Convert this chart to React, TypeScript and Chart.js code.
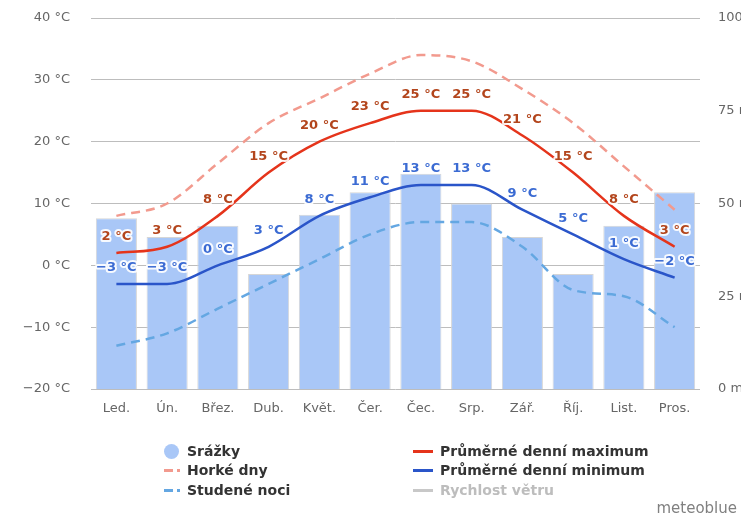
import React, { useEffect, useRef } from 'react';
import { Chart, registerables } from 'chart.js';

Chart.register(...registerables);

const months = ['Led.', 'Ún.', 'Břez.', 'Dub.', 'Květ.', 'Čer.', 'Čec.', 'Srp.', 'Zář.', 'Říj.', 'List.', 'Pros.'];
const precipitation = [46, 41, 44, 31, 47, 53, 58, 50, 41, 31, 44, 53];
const meanMax = [2, 3, 8, 15, 20, 23, 25, 25, 21, 15, 8, 3];
const meanMin = [-3, -3, 0, 3, 8, 11, 13, 13, 9, 5, 1, -2];
const hotDays = [8, 10, 16.5, 23, 27, 31, 34, 33, 28.5, 23, 16, 9];
const coldNights = [-13, -11, -7, -3, 1, 5, 7, 7, 3, -4, -5, -10];
const tempTicks = [-20, -10, 0, 10, 20, 30, 40];
const precipTicks = [0, 25, 50, 75, 100];

const FONT = '"DejaVu Sans", Verdana, sans-serif';

const fmtTemp = (v: number) => (v < 0 ? '\u2212' + Math.abs(v) : String(v)) + ' °C';

const labelColors: Record<number, string> = { 0: '#b3451c', 1: '#3b6bd3' };

const valueLabels = {
  id: 'valueLabels',
  afterDatasetsDraw(chart: any) {
    const ctx = chart.ctx;
    chart.data.datasets.forEach((ds: any, i: number) => {
      const color = labelColors[i];
      if (!color) return;
      const meta = chart.getDatasetMeta(i);
      meta.data.forEach((pt: any, j: number) => {
        const text = fmtTemp(ds.data[j]);
        ctx.save();
        ctx.font = 'bold 13px ' + FONT;
        ctx.textAlign = 'center';
        ctx.textBaseline = 'middle';
        ctx.lineJoin = 'round';
        ctx.lineWidth = 4;
        ctx.strokeStyle = 'rgba(255,255,255,0.9)';
        ctx.strokeText(text, pt.x, pt.y - 16);
        ctx.fillStyle = color;
        ctx.fillText(text, pt.x, pt.y - 16);
        ctx.restore();
      });
    });
  },
};

const legendLeft = [
  { label: 'Srážky', kind: 'circle', color: '#a9c7f7' },
  { label: 'Horké dny', kind: 'dash', color: '#f29a8e' },
  { label: 'Studené noci', kind: 'dash', color: '#64a7e2' },
];
const legendRight = [
  { label: 'Průměrné denní maximum', color: '#e5341b', text: '#333' },
  { label: 'Průměrné denní minimum', color: '#2a55c9', text: '#333' },
  { label: 'Rychlost větru', color: '#c8c8c8', text: '#bdbdbd' },
];
const rowY = [451, 470, 490];

export default function App() {
  const ref = useRef<HTMLCanvasElement | null>(null);

  useEffect(() => {
    if (!ref.current) return;
    const chart = new Chart(ref.current, {
      type: 'bar',
      data: {
        labels: months,
        datasets: [
          {
            type: 'line',
            label: 'Průměrné denní maximum',
            data: meanMax,
            borderColor: '#e5341b',
            borderWidth: 2.5,
            pointRadius: 0,
            cubicInterpolationMode: 'monotone',
            yAxisID: 'y',
            order: 1,
          },
          {
            type: 'line',
            label: 'Průměrné denní minimum',
            data: meanMin,
            borderColor: '#2a55c9',
            borderWidth: 2.5,
            pointRadius: 0,
            cubicInterpolationMode: 'monotone',
            yAxisID: 'y',
            order: 2,
          },
          {
            type: 'line',
            label: 'Horké dny',
            data: hotDays,
            borderColor: '#f29a8e',
            borderWidth: 2.5,
            borderDash: [9, 6],
            pointRadius: 0,
            cubicInterpolationMode: 'monotone',
            yAxisID: 'y',
            order: 3,
          },
          {
            type: 'line',
            label: 'Studené noci',
            data: coldNights,
            borderColor: '#64a7e2',
            borderWidth: 2.5,
            borderDash: [9, 6],
            pointRadius: 0,
            cubicInterpolationMode: 'monotone',
            yAxisID: 'y',
            order: 4,
          },
          {
            type: 'bar',
            label: 'Srážky',
            data: precipitation,
            backgroundColor: '#a9c7f7',
            borderColor: '#d6d6d6',
            borderWidth: 1,
            barPercentage: 0.81,
            categoryPercentage: 1,
            yAxisID: 'y1',
            order: 10,
          },
        ] as any,
      },
      options: {
        responsive: false,
        animation: false,
        devicePixelRatio: 1,
        layout: { padding: { top: 18, left: 0, right: 0, bottom: 0 } },
        plugins: { legend: { display: false }, tooltip: { enabled: false } },
        scales: {
          x: {
            grid: { display: false, drawTicks: false },
            border: { display: false },
            ticks: { color: '#666', font: { family: FONT, size: 13 }, padding: 12 },
            afterFit: (s: any) => { s.height = 128; s.paddingLeft = 0; s.paddingRight = 0; },
          },
          y: {
            position: 'left',
            min: -20,
            max: 40,
            afterBuildTicks: (s: any) => { s.ticks = tempTicks.map((v) => ({ value: v })); },
            grid: { color: '#bdbdbd', lineWidth: 1, drawTicks: false },
            border: { display: false },
            ticks: {
              color: '#666',
              font: { family: FONT, size: 13 },
              padding: 21,
              callback: (v: any) => fmtTemp(Number(v)),
            },
            afterFit: (s: any) => { s.width = 91; s.paddingTop = 0; s.paddingBottom = 0; },
          },
          y1: {
            position: 'right',
            min: 0,
            max: 100,
            afterBuildTicks: (s: any) => { s.ticks = precipTicks.map((v) => ({ value: v })); },
            grid: { display: false, drawTicks: false },
            border: { display: false },
            ticks: {
              color: '#666',
              font: { family: FONT, size: 13 },
              padding: 18,
              callback: (v: any) => v + ' mm',
            },
            afterFit: (s: any) => { s.width = 41; s.paddingTop = 0; s.paddingBottom = 0; },
          },
        },
      } as any,
      plugins: [valueLabels],
    });
    return () => chart.destroy();
  }, []);

  const boldText: React.CSSProperties = {
    position: 'absolute',
    font: 'bold 14px ' + FONT,
    lineHeight: '16px',
    whiteSpace: 'nowrap',
  };

  return (
    <div style={{ position: 'fixed', left: 0, top: 0, width: 741, height: 517, overflow: 'hidden', background: '#fff' }}>
      <canvas ref={ref} width={741} height={517} style={{ position: 'absolute', left: 0, top: 0, width: 741, height: 517 }} />
      {legendLeft.map((it, i) => (
        <React.Fragment key={it.label}>
          {it.kind === 'circle' ? (
            <div style={{ position: 'absolute', left: 164, top: rowY[i] - 7.5, width: 15, height: 15, borderRadius: '50%', background: it.color }} />
          ) : (
            <>
              <div style={{ position: 'absolute', left: 164, top: rowY[i] - 1.5, width: 9, height: 3, background: it.color }} />
              <div style={{ position: 'absolute', left: 177, top: rowY[i] - 1.5, width: 3, height: 3, background: it.color }} />
            </>
          )}
          <div style={{ ...boldText, left: 187, top: rowY[i] - 8, color: '#333' }}>{it.label}</div>
        </React.Fragment>
      ))}
      {legendRight.map((it, i) => (
        <React.Fragment key={it.label}>
          <div style={{ position: 'absolute', left: 413, top: rowY[i] - 1.5, width: 20, height: 3, background: it.color }} />
          <div style={{ ...boldText, left: 440, top: rowY[i] - 8, color: it.text }}>{it.label}</div>
        </React.Fragment>
      ))}
      <div style={{ position: 'absolute', right: 4, top: 499, font: '15px ' + FONT, lineHeight: '18px', color: '#808080' }}>meteoblue</div>
    </div>
  );
}
